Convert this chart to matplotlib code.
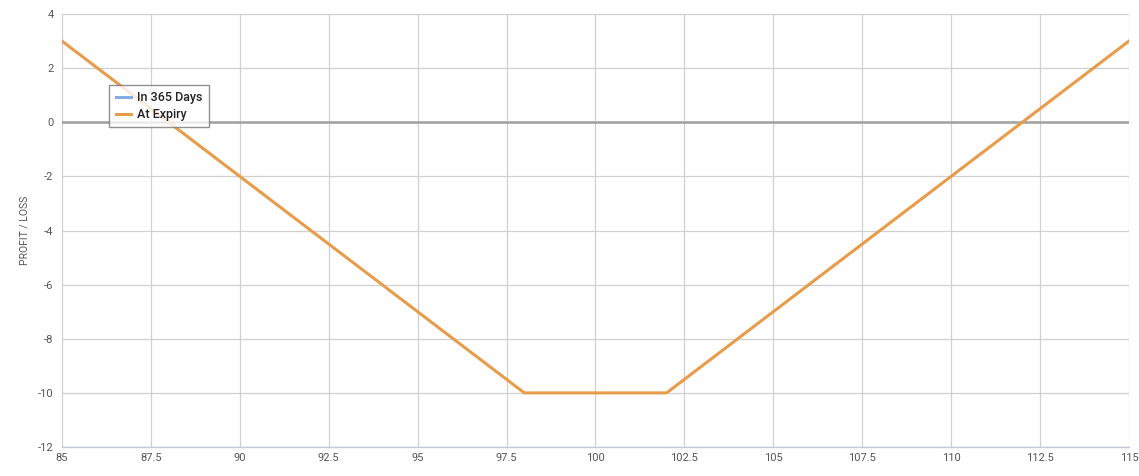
import matplotlib.pyplot as plt

plt.rcParams['font.family'] = ['Roboto', 'DejaVu Sans']
plt.rcParams['axes.unicode_minus'] = False

# underlying price vs profit/loss at expiry
prices = [85, 98, 102, 115]
expiry_pnl = [3, -10, -10, 3]

# "In 365 Days" series has no visible points in the reference
days_prices = []
days_pnl = []

x_ticks = [85, 87.5, 90, 92.5, 95, 97.5, 100, 102.5, 105, 107.5, 110, 112.5, 115]
y_ticks = [-12, -10, -8, -6, -4, -2, 0, 2, 4]

fig = plt.figure(figsize=(11.39, 4.76), dpi=100)
ax = fig.add_axes([0.0544, 0.0609, 0.9368, 0.9097])

ax.plot(days_prices, days_pnl, color='#86a9e8', linewidth=2.2, label='In 365 Days')
ax.plot(prices, expiry_pnl, color='#e89c4a', linewidth=2.2, label='At Expiry', zorder=3)
ax.axhline(0, color='#a0a0a0', linewidth=1.8, zorder=2)

ax.set_xlim(85, 115)
ax.set_ylim(-12, 4)
ax.set_xticks(x_ticks)
ax.set_xticklabels([f'{t:g}' for t in x_ticks])
ax.set_yticks(y_ticks)
ax.grid(True, color='#d0d0d0', linewidth=0.9)
ax.set_axisbelow(True)
ax.tick_params(length=0, labelsize=8, colors='#555555', pad=6)
ax.tick_params(axis='x', pad=4)

for side in ['top', 'right', 'left']:
    ax.spines[side].set_visible(False)
ax.spines['bottom'].set_color('#c3cad8')
ax.spines['bottom'].set_linewidth(1)

ax.set_ylabel('PROFIT / LOSS', fontsize=7.5, color='#555555', labelpad=6)

leg = ax.legend(loc='upper left', bbox_to_anchor=(0.0445, 0.836), fontsize=9,
                frameon=True, fancybox=False, handlelength=1.2, handletextpad=0.5,
                borderpad=0.5, labelspacing=0.3, borderaxespad=0)
leg.get_frame().set_edgecolor('#777777')
leg.get_frame().set_linewidth(1)
for t in leg.get_texts():
    t.set_color('#222222')
    t.set_fontweight('medium')

fig.savefig('out.png', dpi=100)
